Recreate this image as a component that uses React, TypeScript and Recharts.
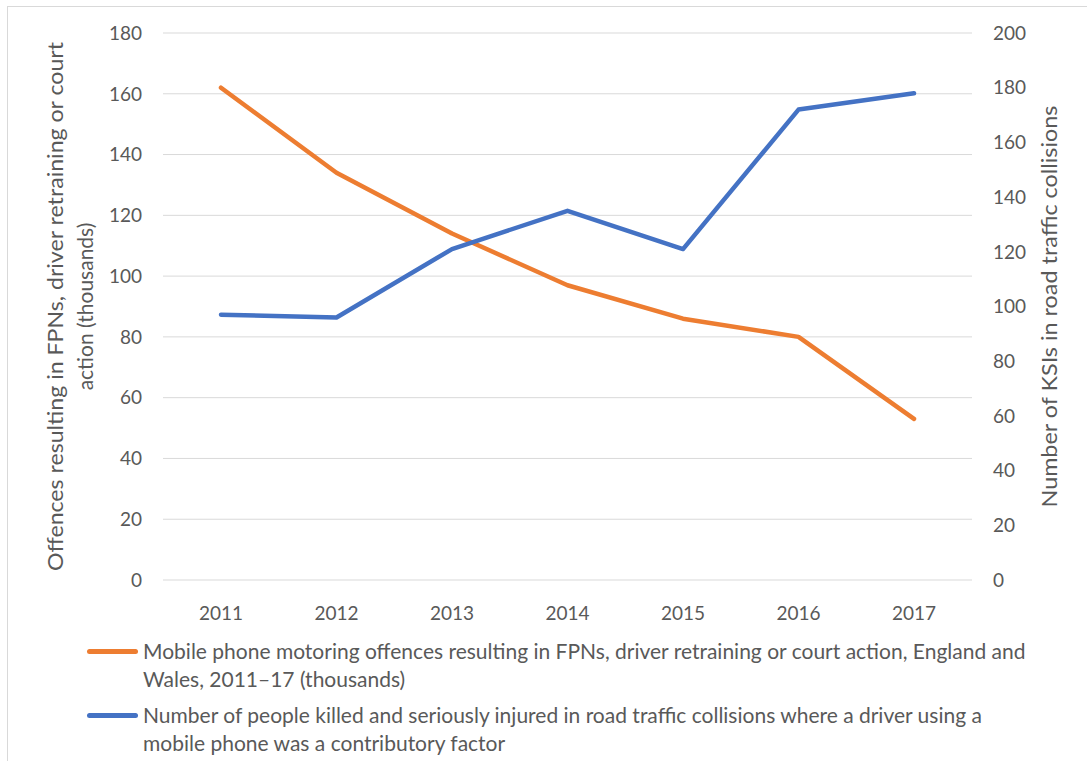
import React from "react";
import { LineChart, Line, XAxis, YAxis, CartesianGrid } from "recharts";

const years = ["2011", "2012", "2013", "2014", "2015", "2016", "2017"];
const offences = [162, 134, 114, 97, 86, 80, 53];
const ksis = [97, 96, 121, 135, 121, 172, 178];
const leftTicks = [0, 20, 40, 60, 80, 100, 120, 140, 160, 180];
const rightTicks = [0, 20, 40, 60, 80, 100, 120, 140, 160, 180, 200];
const leftTitleLines = ["Offences resulting in FPNs, driver retraining or court", "action (thousands)"];
const rightTitle = "Number of KSIs in road traffic collisions";
const offencesLegend = [
  "Mobile phone motoring offences resulting in FPNs, driver retraining or court action, England and",
  "Wales, 2011\u201317 (thousands)",
];
const ksisLegend = [
  "Number of people killed and seriously injured in road traffic collisions where a driver using a",
  "mobile phone was a contributory factor",
];

const ORANGE = "#ED7D31";
const BLUE = "#4472C4";
const FONT = "Lato, 'Open Sans', sans-serif";
const TEXT = "#595959";

const data = years.map((y, i) => ({ year: y, offences: offences[i], ksis: ksis[i] }));

const LeftTitle = (props: any) => {
  const vb = props.viewBox || { x: 0, y: 33, width: 163, height: 547 };
  const cy = vb.y + vb.height / 2;
  const xs = [63, 93];
  const lens = [529, undefined];
  return (
    <g>
      {leftTitleLines.map((t, i) => (
        <text
          key={i}
          x={xs[i]}
          y={cy}
          transform={`rotate(-90 ${xs[i]} ${cy})`}
          textAnchor="middle"
          fill={TEXT}
          fontSize={21}
          fontFamily={FONT}
          textLength={lens[i]}
          lengthAdjust="spacingAndGlyphs"
        >
          {t}
        </text>
      ))}
    </g>
  );
};

const RightTitle = (props: any) => {
  const vb = props.viewBox || { x: 972, y: 33, width: 115, height: 547 };
  const cy = vb.y + vb.height / 2;
  const x = 1057;
  return (
    <text
      x={x}
      y={cy}
      transform={`rotate(-90 ${x} ${cy})`}
      textAnchor="middle"
      fill={TEXT}
      fontSize={21}
      fontFamily={FONT}
      textLength={402}
      lengthAdjust="spacingAndGlyphs"
    >
      {rightTitle}
    </text>
  );
};

const LegendItem = ({ color, lines, top }: { color: string; lines: string[]; top: number }) => (
  <div style={{ position: "absolute", left: 87, top, width: 1000 }}>
    <div style={{ position: "absolute", left: 0, top: 12, width: 51, height: 5, borderRadius: 3, background: color }} />
    <div style={{ position: "absolute", left: 56, top: 0, lineHeight: "27.5px", fontSize: 21, color: TEXT, fontFamily: FONT, whiteSpace: "nowrap" }}>
      {lines.map((l, i) => (
        <div key={i}>{l}</div>
      ))}
    </div>
  </div>
);

export default function App() {
  return (
    <div style={{ position: "absolute", left: 0, top: 0, width: 1087, height: 761, overflow: "hidden", background: "#fff", fontFamily: FONT }}>
      <div style={{ position: "absolute", left: 7, top: 6, width: 1200, height: 900, border: "1px solid #D9D9D9" }} />
      <div style={{ position: "absolute", left: 0, top: 0 }}>
        <LineChart width={1087} height={761} data={data} margin={{ top: 33, right: 0, bottom: 151, left: 0 }}>
          <CartesianGrid horizontal vertical={false} stroke="#D9D9D9" strokeWidth={1} yAxisId="left" />
          <XAxis
            dataKey="year"
            tickLine={false}
            axisLine={false}
            padding={{ left: 58, right: 58 }}
            height={30}
            tickMargin={21}
            tick={{ fill: TEXT, fontSize: 19, fontFamily: FONT }}
          />
          <YAxis
            yAxisId="left"
            width={163}
            domain={[0, 180]}
            ticks={leftTicks}
            tickLine={false}
            axisLine={false}
            tickSize={0}
            tickMargin={21}
            tick={{ fill: TEXT, fontSize: 19, fontFamily: FONT }}
            label={{ content: LeftTitle }}
          />
          <YAxis
            yAxisId="right"
            orientation="right"
            width={115}
            domain={[0, 200]}
            ticks={rightTicks}
            tickLine={false}
            axisLine={false}
            tickSize={0}
            tickMargin={21}
            tick={{ fill: TEXT, fontSize: 19, fontFamily: FONT, textAnchor: "start" }}
            label={{ content: RightTitle }}
          />
          <Line
            yAxisId="left"
            type="linear"
            dataKey="offences"
            stroke={ORANGE}
            strokeWidth={4.5}
            strokeLinecap="round"
            strokeLinejoin="round"
            dot={false}
            isAnimationActive={false}
          />
          <Line
            yAxisId="right"
            type="linear"
            dataKey="ksis"
            stroke={BLUE}
            strokeWidth={4.5}
            strokeLinecap="round"
            strokeLinejoin="round"
            dot={false}
            isAnimationActive={false}
          />
        </LineChart>
      </div>
      <LegendItem color={ORANGE} lines={offencesLegend} top={637} />
      <LegendItem color={BLUE} lines={ksisLegend} top={701} />
    </div>
  );
}
